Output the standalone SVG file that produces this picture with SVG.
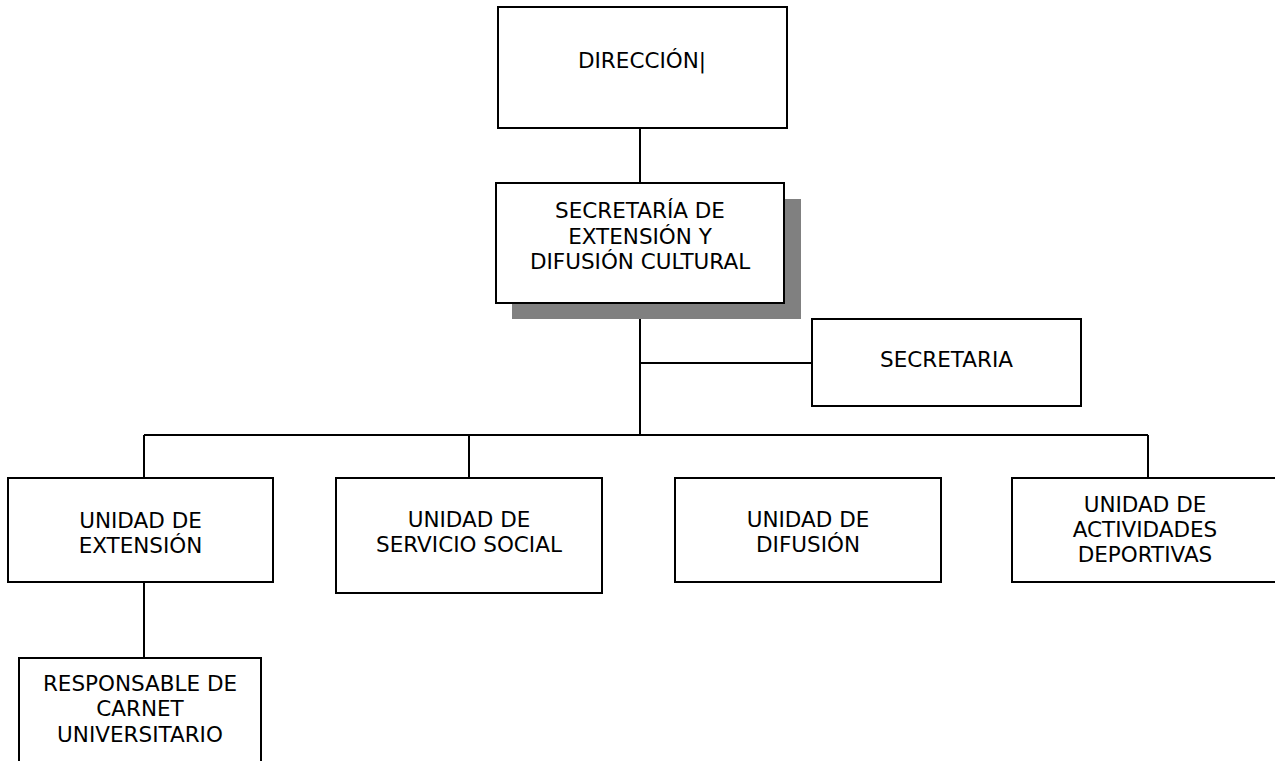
<svg xmlns="http://www.w3.org/2000/svg" width="1275" height="761" viewBox="0 0 1275 761">
<style>
.box{fill:#fff;stroke:#000;stroke-width:2}
.shadow{fill:#808080;stroke:none}
.lbl{font-family:"DejaVu Sans","Verdana",sans-serif;font-size:21.5px;fill:#000;text-anchor:middle}
.conn{stroke:#000;stroke-width:2;fill:none}
</style>
<rect x="0" y="0" width="1275" height="761" fill="#fff"/>
<g id="connectors">
<line class="conn" x1="640" y1="128" x2="640" y2="183"/>
<line class="conn" x1="640" y1="319" x2="640" y2="435"/>
<line class="conn" x1="640" y1="363" x2="812" y2="363"/>
<line class="conn" x1="144" y1="435" x2="1148" y2="435"/>
<line class="conn" x1="144" y1="435" x2="144" y2="478"/>
<line class="conn" x1="469" y1="435" x2="469" y2="478"/>
<line class="conn" x1="1148" y1="435" x2="1148" y2="478"/>
<line class="conn" x1="144" y1="582" x2="144" y2="658"/>
</g>
<g id="direccion">
<rect class="box" x="498" y="7" width="289" height="121"/>
<text class="lbl" x="642" y="68">DIRECCIÓN|</text>
</g>
<g id="secretaria-extension">
<rect class="shadow" x="512" y="199" width="289" height="120"/>
<rect class="box" x="496" y="183" width="288" height="120"/>
<text class="lbl" x="640" y="218">SECRETARÍA DE</text>
<text class="lbl" x="640" y="244">EXTENSIÓN Y</text>
<text class="lbl" x="640" y="269">DIFUSIÓN CULTURAL</text>
</g>
<g id="secretaria">
<rect class="box" x="812" y="319" width="269" height="87"/>
<text class="lbl" x="946.5" y="367">SECRETARIA</text>
</g>
<g id="unidad-extension">
<rect class="box" x="8" y="478" width="265" height="104"/>
<text class="lbl" x="140.5" y="528">UNIDAD DE</text>
<text class="lbl" x="140.5" y="553">EXTENSIÓN</text>
</g>
<g id="unidad-servicio">
<rect class="box" x="336" y="478" width="266" height="115"/>
<text class="lbl" x="469" y="527">UNIDAD DE</text>
<text class="lbl" x="469" y="552">SERVICIO SOCIAL</text>
</g>
<g id="unidad-difusion">
<rect class="box" x="675" y="478" width="266" height="104"/>
<text class="lbl" x="808" y="527">UNIDAD DE</text>
<text class="lbl" x="808" y="552">DIFUSIÓN</text>
</g>
<g id="unidad-deportivas">
<rect class="box" x="1012" y="478" width="270" height="104"/>
<text class="lbl" x="1145" y="512">UNIDAD DE</text>
<text class="lbl" x="1145" y="537">ACTIVIDADES</text>
<text class="lbl" x="1145" y="562">DEPORTIVAS</text>
</g>
<g id="responsable-carnet">
<rect class="box" x="19" y="658" width="242" height="120"/>
<text class="lbl" x="140" y="691">RESPONSABLE DE</text>
<text class="lbl" x="140" y="716">CARNET</text>
<text class="lbl" x="140" y="742">UNIVERSITARIO</text>
</g>
</svg>
